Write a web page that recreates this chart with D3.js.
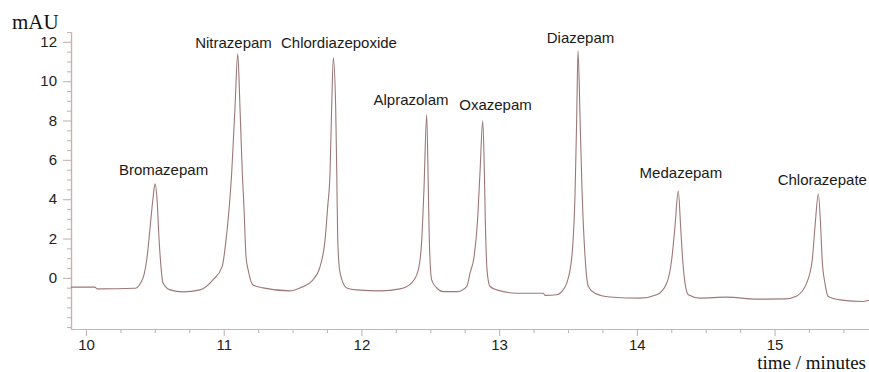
<!DOCTYPE html>
<html>
<head>
<meta charset="utf-8">
<script src="https://cdn.jsdelivr.net/npm/d3@7"></script>
<style>
  html, body { margin: 0; padding: 0; background: #fff; }
  svg { display: block; }
</style>
</head>
<body>
<figure id="chrom" style="margin:0"></figure>
<script>
// retention time (minutes) and absorbance (mAU)
const times = [
  9.891, 10.065, 10.080, 10.356, 10.392, 10.421, 10.443, 10.465, 10.487, 10.501,
  10.516, 10.530, 10.545, 10.559, 10.610, 10.704, 10.828, 10.922, 10.988, 11.017,
  11.058, 11.082, 11.102, 11.118, 11.135, 11.147, 11.162, 11.179, 11.213, 11.285,
  11.481, 11.554, 11.648, 11.699, 11.736, 11.755, 11.772, 11.784, 11.796, 11.813,
  11.821, 11.828, 11.845, 11.893, 11.966, 12.135, 12.280, 12.365, 12.413, 12.438,
  12.454, 12.474, 12.486, 12.493, 12.510, 12.547, 12.595, 12.692, 12.765, 12.789,
  12.818, 12.842, 12.861, 12.881, 12.893, 12.900, 12.914, 12.934, 12.983, 13.128,
  13.321, 13.333, 13.418, 13.464, 13.491, 13.528, 13.552, 13.563, 13.573, 13.588,
  13.602, 13.624, 13.648, 13.696, 13.805, 14.023, 14.144, 14.217, 14.253, 14.277,
  14.301, 14.318, 14.333, 14.350, 14.374, 14.459, 14.653, 14.870, 15.076, 15.161,
  15.233, 15.274, 15.294, 15.318, 15.335, 15.346, 15.366, 15.390, 15.475, 15.645,
  15.686
];
const absorbance = [
  -0.47, -0.47, -0.56, -0.53, -0.31, 0.15, 1.02, 2.54, 4.07, 4.78,
  3.97, 2.03, 0.51, -0.25, -0.61, -0.71, -0.61, -0.10, 0.56, 1.93,
  5.34, 8.69, 11.39, 8.69, 5.34, 3.61, 1.07, 0.36, -0.36, -0.51,
  -0.66, -0.51, -0.10, 0.56, 1.93, 3.61, 5.34, 8.69, 11.19, 8.69,
  5.34, 1.93, 0.25, -0.51, -0.61, -0.66, -0.56, -0.25, 0.41, 1.93,
  4.47, 8.29, 4.47, 1.93, -0.10, -0.51, -0.70, -0.70, -0.44, 0.25,
  1.07, 2.80, 5.34, 7.98, 5.34, 2.80, 0.25, -0.44, -0.61, -0.78,
  -0.78, -0.89, -0.86, -0.61, -0.27, 1.08, 4.47, 8.03, 11.54, 8.03,
  4.47, 1.08, -0.44, -0.78, -0.97, -1.03, -0.86, -0.27, 0.92, 2.61,
  4.42, 2.61, 0.92, -0.27, -0.86, -1.03, -0.98, -1.08, -1.07, -0.92,
  -0.27, 0.92, 2.61, 4.26, 2.61, 0.92, -0.27, -0.95, -1.12, -1.20,
  -1.14
];

// peak names and where their labels sit (time, mAU)
const peakNames = ["Bromazepam", "Nitrazepam", "Chlordiazepoxide", "Alprazolam",
  "Oxazepam", "Diazepam", "Medazepam", "Chlorazepate"];
const labelTimes = [10.563, 11.071, 11.837, 12.360, 12.974, 13.591, 14.320, 15.347];
const labelValues = [5.24, 11.69, 11.69, 8.80, 8.54, 11.95, 5.07, 4.73];

const xTicks = [10, 11, 12, 13, 14, 15];
const yTicks = [0, 2, 4, 6, 8, 10, 12];
const xDomain = [9.891, 15.686];
const yDomain = [-2.6, 12.5];

const W = 869, H = 372;
const margin = { left: 71, right: 869, top: 32, bottom: 329 };
const axisColor = "#c6b4b4";
const traceColor = "#9c7878";

const svg = d3.select("figure#chrom")
  .append("svg")
  .attr("width", W)
  .attr("height", H);

const x = d3.scaleLinear().domain(xDomain).range([margin.left, margin.right]);
const y = d3.scaleLinear().domain(yDomain).range([margin.bottom, margin.top]);

// minor ticks
const xMinor = d3.range(10, 15.51, 0.25).filter(t => !xTicks.includes(t));
const yMinor = d3.range(-2.5, 12.51, 0.5).filter(v => !yTicks.includes(v));

const xAxis = svg.append("g")
  .attr("transform", "translate(0," + margin.bottom + ")")
  .call(d3.axisBottom(x).tickValues(xTicks).tickFormat(d3.format("d"))
    .tickSize(7).tickSizeOuter(0).tickPadding(3));
svg.append("g")
  .attr("transform", "translate(0," + margin.bottom + ")")
  .call(d3.axisBottom(x).tickValues(xMinor).tickSize(4).tickFormat("").tickSizeOuter(0));

const yAxis = svg.append("g")
  .attr("transform", "translate(" + margin.left + ",0)")
  .call(d3.axisLeft(y).tickValues(yTicks).tickFormat(d3.format("d"))
    .tickSize(8).tickSizeOuter(0).tickPadding(6));
svg.append("g")
  .attr("transform", "translate(" + margin.left + ",0)")
  .call(d3.axisLeft(y).tickValues(yMinor).tickSize(4).tickFormat("").tickSizeOuter(0));

svg.selectAll(".domain").attr("stroke", axisColor).attr("stroke-width", 1.2);
svg.selectAll(".tick line").attr("stroke", axisColor).attr("stroke-width", 1.1);
svg.selectAll(".tick text")
  .attr("fill", "#222")
  .style("font-family", "'Liberation Sans', Arial, sans-serif")
  .style("font-size", "15px");

// the trace
const pts = times.map((t, i) => [t, absorbance[i]]);
const line = d3.line()
  .x(d => x(d[0]))
  .y(d => y(d[1]))
  .curve(d3.curveMonotoneX);

svg.append("path")
  .datum(pts)
  .attr("fill", "none")
  .attr("stroke", traceColor)
  .attr("stroke-width", 1.1)
  .attr("d", line);

// peak labels
svg.selectAll(".peak")
  .data(peakNames)
  .enter()
  .append("text")
  .attr("class", "peak")
  .attr("x", (d, i) => x(labelTimes[i]))
  .attr("y", (d, i) => y(labelValues[i]))
  .attr("text-anchor", "middle")
  .attr("fill", "#1a1a1a")
  .style("font-family", "'Liberation Sans', Arial, sans-serif")
  .style("font-size", "15px")
  .text(d => d);

// axis titles
svg.append("text")
  .attr("x", 12)
  .attr("y", 29)
  .attr("fill", "#111")
  .style("font-family", "'Liberation Serif', 'Times New Roman', serif")
  .style("font-size", "21px")
  .text("mAU");

svg.append("text")
  .attr("x", 866)
  .attr("y", 369)
  .attr("text-anchor", "end")
  .attr("fill", "#111")
  .style("font-family", "'Liberation Serif', 'Times New Roman', serif")
  .style("font-size", "19px")
  .text("time / minutes");
</script>
</body>
</html>
